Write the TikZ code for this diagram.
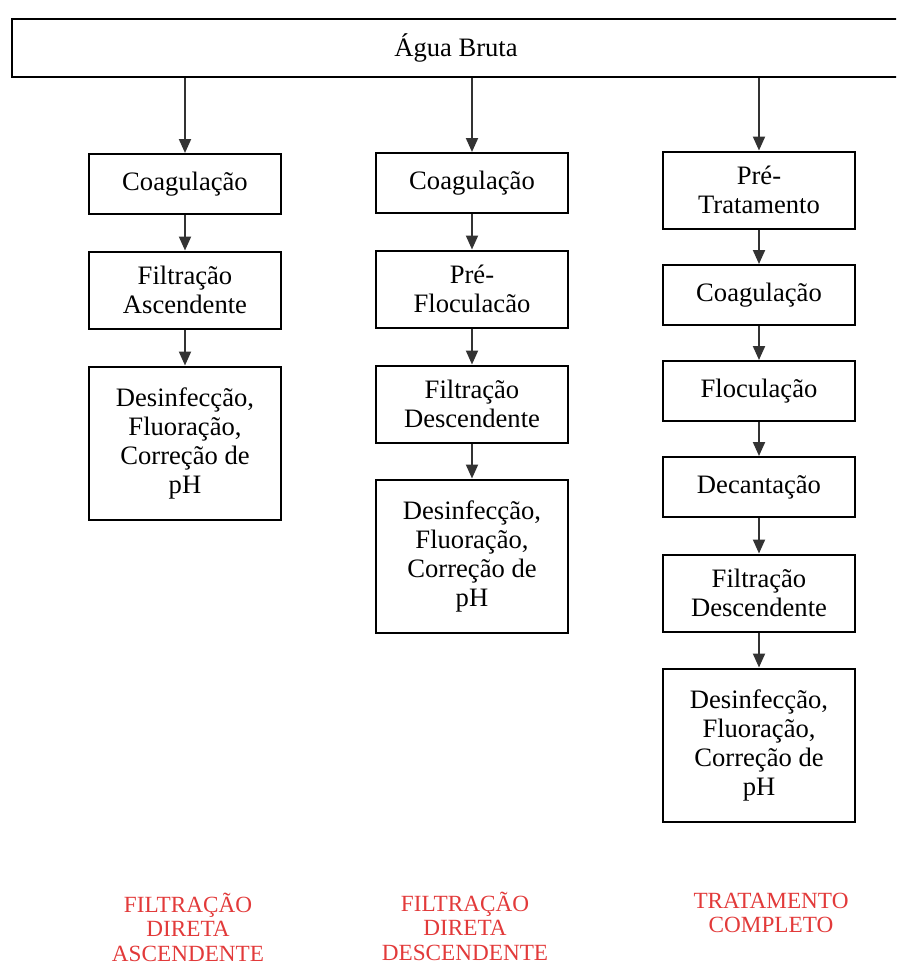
\documentclass[tikz,border=0pt]{standalone}
\usepackage{fontspec}
\setmainfont{Liberation Serif}
\usepackage{xcolor}
\usetikzlibrary{
  arrows.meta,
}
\definecolor{labelred}{RGB}{226,58,58}

\begin{document}
\begin{tikzpicture}[
  x=0.5pt, y=-0.5pt,
  stage/.style={
    draw, line width=1pt,
    align=center, inner sep=0pt,
    minimum width=96pt,
    font=\fontsize{13.3}{14.5}\selectfont,
  },
  one line/.style={stage, minimum height=30pt},
  two lines/.style={stage, minimum height=38.5pt},
  four lines/.style={stage, minimum height=76.5pt},
  flow/.style={
    draw=black!80, line width=1pt,
    -{Triangle[length=7pt,width=6pt]},
  },
  route/.style={
    text=labelred, align=center,
    font=\fontsize{11.6}{12.3}\selectfont,
  },
  ]
  \clip (0,0) rectangle (896,965);

  \node [stage, minimum width=444pt, minimum height=29pt, name=node-raw]
  at (456,48) {Água Bruta};

  % filtracao direta ascendente
  \node [one line, name=node-a1] at (185,184) {Coagulação};
  \node [two lines, name=node-a2] at (185,290) {Filtração\\Ascendente};
  \node [four lines, name=node-a3] at (185,443)
  {Desinfecção,\\Fluoração,\\Correção de\\pH};

  % filtracao direta descendente
  \node [one line, name=node-b1] at (472,183) {Coagulação};
  \node [two lines, name=node-b2] at (472,289) {Pré-\\Floculacão};
  \node [two lines, name=node-b3] at (472,404) {Filtração\\Descendente};
  \node [four lines, name=node-b4] at (472,556)
  {Desinfecção,\\Fluoração,\\Correção de\\pH};

  % tratamento completo
  \node [two lines, name=node-c1] at (759,190) {Pré-\\Tratamento};
  \node [one line, name=node-c2] at (759,295) {Coagulação};
  \node [one line, name=node-c3] at (759,391) {Floculação};
  \node [one line, name=node-c4] at (759,487) {Decantação};
  \node [two lines, name=node-c5] at (759,593) {Filtração\\Descendente};
  \node [four lines, name=node-c6] at (759,745)
  {Desinfecção,\\Fluoração,\\Correção de\\pH};

  \draw [flow] (node-raw.south -| node-a1.north) -- (node-a1.north);
  \draw [flow] (node-raw.south -| node-b1.north) -- (node-b1.north);
  \draw [flow] (node-raw.south -| node-c1.north) -- (node-c1.north);

  \draw [flow] (node-a1) -- (node-a2);
  \draw [flow] (node-a2) -- (node-a3);

  \draw [flow] (node-b1) -- (node-b2);
  \draw [flow] (node-b2) -- (node-b3);
  \draw [flow] (node-b3) -- (node-b4);

  \draw [flow] (node-c1) -- (node-c2);
  \draw [flow] (node-c2) -- (node-c3);
  \draw [flow] (node-c3) -- (node-c4);
  \draw [flow] (node-c4) -- (node-c5);
  \draw [flow] (node-c5) -- (node-c6);

  \node [route, name=node-route-a] at (188,927)
  {FILTRAÇÃO\\DIRETA\\ASCENDENTE};
  \node [route, name=node-route-b] at (465,926)
  {FILTRAÇÃO\\DIRETA\\DESCENDENTE};
  \node [route, name=node-route-c] at (771,913)
  {TRATAMENTO\\COMPLETO};
\end{tikzpicture}
\end{document}
